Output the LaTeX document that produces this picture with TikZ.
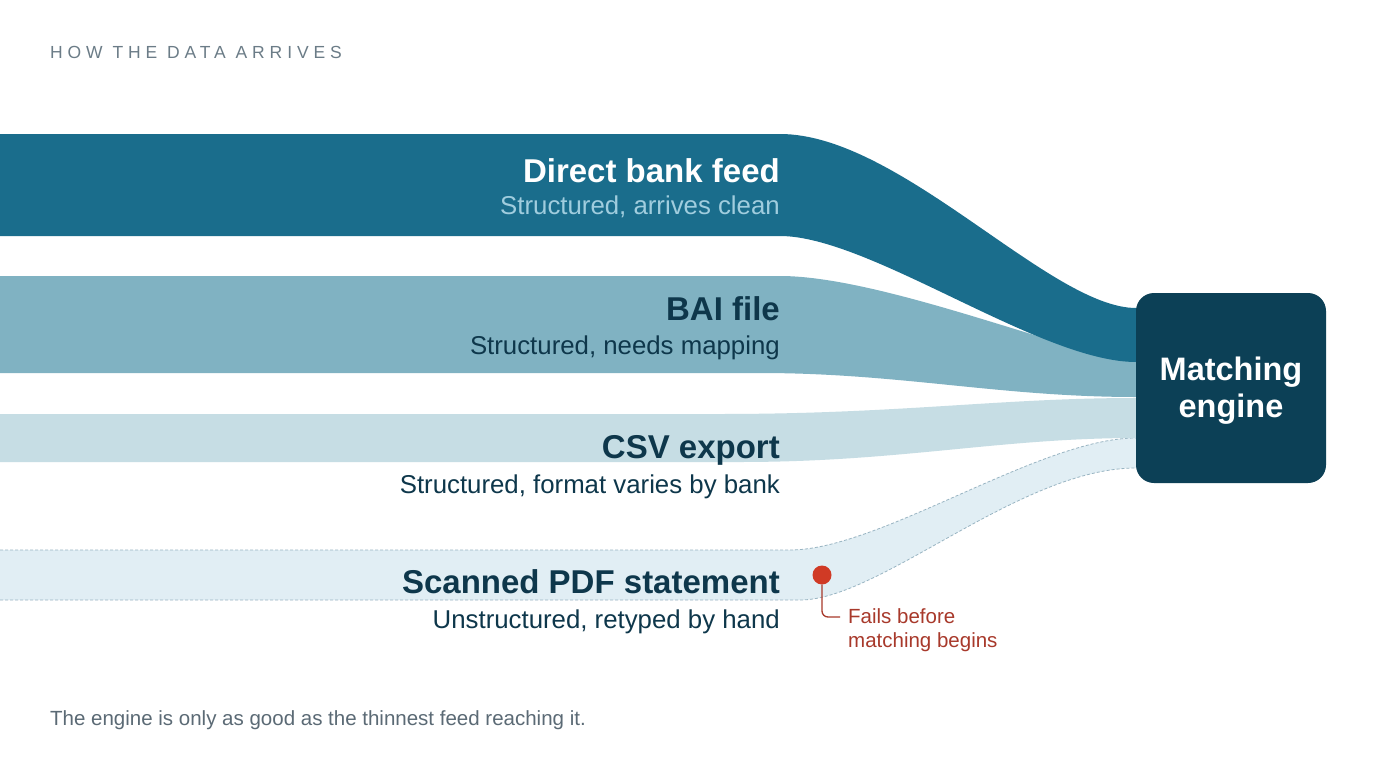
\documentclass[tikz,border=0pt]{standalone}
\usepackage{fontspec}
\setmainfont{Liberation Sans}
\newfontfamily\spacedfont[LetterSpace=28]{Liberation Sans}
\definecolor{sone}{HTML}{1A6D8C}
\definecolor{stwo}{HTML}{80B2C2}
\definecolor{sthree}{HTML}{C6DDE4}
\definecolor{sfour}{HTML}{E1EEF4}
\definecolor{dashcol}{HTML}{98B4C2}
\definecolor{boxcol}{HTML}{0C4056}
\definecolor{darktext}{HTML}{0E374B}
\definecolor{lighttext}{HTML}{A0CDDE}
\definecolor{graytext}{HTML}{5B6A75}
\definecolor{titlegray}{HTML}{6B7C87}
\definecolor{reddot}{HTML}{D03A25}
\definecolor{redtext}{HTML}{A8392B}
\begin{document}
\begin{tikzpicture}[x=1pt,y=-1pt,
  head/.style={anchor=base east, inner sep=0pt, font=\bfseries\fontsize{33}{38}\selectfont},
  sub/.style={anchor=base east, inner sep=0pt, font=\fontsize{25.8}{30}\selectfont},
  dashline/.style={draw=dashcol, line width=0.8pt, dash pattern=on 3pt off 2pt},
  enginebox/.style={fill=boxcol, rounded corners=18pt, minimum width=190pt, minimum height=190pt, inner sep=0pt},
  enginetext/.style={text=white, align=center, inner sep=0pt, font=\bfseries\fontsize{32.5}{37}\selectfont},
  redline/.style={draw=redtext, line width=1.3pt, rounded corners=6pt}
]
\useasboundingbox (0,0) rectangle (1376,768);
\fill[white] (0,0) rectangle (1376,768);

% stream 4: scanned PDF
\fill[sfour] (-1,550) -- (790,550) .. controls (880,550) and (1040,438) .. (1136,438) -- (1150,438) -- (1150,468) -- (1136,468) .. controls (1020,468) and (880,600) .. (800,600) -- (-1,600) -- cycle;
\draw[dashline] (0,550) -- (790,550) .. controls (880,550) and (1040,438) .. (1136,438);
\draw[dashline] (0,600) -- (800,600) .. controls (880,600) and (1020,468) .. (1136,468);

% stream 3: CSV
\fill[sthree] (-1,414) -- (720,414) .. controls (900,414) and (1000,398) .. (1136,398) -- (1150,398) -- (1150,438) -- (1136,438) .. controls (1000,438) and (900,462) .. (740,462) -- (-1,462) -- cycle;

% stream 2: BAI
\fill[stwo] (-1,276) -- (780,276) .. controls (880,276) and (1060,350) .. (1136,362) -- (1150,362) -- (1150,397) -- (1136,397) .. controls (1000,397) and (900,373) .. (760,373) -- (-1,373) -- cycle;

% stream 1: direct feed
\fill[sone] (-1,134) -- (780,134) .. controls (900,134) and (1050,308) .. (1136,308) -- (1150,308) -- (1150,362) -- (1136,362) .. controls (1040,362) and (870,236) .. (780,236) -- (-1,236) -- cycle;

% engine box
\node[enginebox] (engine) at (1231,388) {};
\node[enginetext] (enginelabel) at (1231,391) {Matching\\engine};

% title
\node[anchor=base west, inner sep=0pt, text=titlegray] (title) at (50,59) {\spacedfont\fontsize{17.5}{20}\selectfont HOW THE DATA ARRIVES};

% stream labels
\node[head, text=white] (h1) at (780,182) {Direct bank feed};
\node[sub, text=lighttext] (s1) at (780,214) {Structured, arrives clean};
\node[head, text=darktext] (h2) at (780,320) {BAI file};
\node[sub, text=darktext] (s2) at (780,354) {Structured, needs mapping};
\node[head, text=darktext] (h3) at (780,458) {CSV export};
\node[sub, text=darktext] (s3) at (780,493) {Structured, format varies by bank};
\node[head, text=darktext] (h4) at (780,593) {Scanned PDF statement};
\node[sub, text=darktext] (s4) at (780,628) {Unstructured, retyped by hand};

% failure marker
\node[circle, fill=reddot, minimum size=19pt, inner sep=0pt] (dot) at (822,575) {};
\node[anchor=north west, align=left, inner sep=0pt, text=redtext, font=\fontsize{20.5}{24.5}\selectfont] (fails) at (848,608) {Fails before\\matching begins};
\coordinate (hook) at (840,617);
\draw[redline] (dot.south) |- (hook);

% caption
\node[anchor=base west, inner sep=0pt, text=graytext, font=\fontsize{20.5}{24}\selectfont] (caption) at (50,725) {The engine is only as good as the thinnest feed reaching it.};
\end{tikzpicture}
\end{document}
